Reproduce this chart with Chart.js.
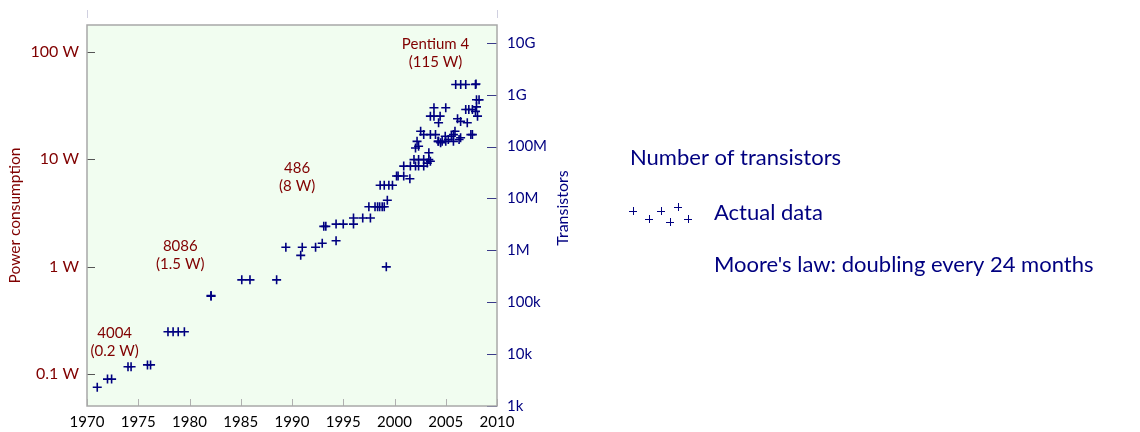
<!DOCTYPE html>
<html>
<head>
<meta charset="utf-8">
<script src="https://cdn.jsdelivr.net/npm/chart.js@4.4.1/dist/chart.umd.min.js"></script>
<style>
  html, body { margin: 0; padding: 0; background: #fff; }
</style>
</head>
<body>
<canvas id="mooreChart" width="1140" height="432"></canvas>
<script>
// processor data: year of introduction and transistor count
const years = [
  1971.0, 1972.0, 1972.4, 1974.0, 1974.3, 1975.9, 1976.2,
  1977.9, 1978.4, 1978.9, 1979.5, 1982.1, 1982.1,
  1985.1, 1985.9, 1988.5, 1989.4, 1990.85, 1991.0, 1992.3, 1992.95, 1994.3,
  1993.1, 1993.3, 1994.3, 1995.0, 1996.0, 1996.0, 1996.9, 1997.65,
  1997.5, 1998.1, 1998.35, 1998.55, 1998.8, 1999.0, 1999.3, 1999.2,
  1998.6, 1999.0, 1999.45, 1999.8, 2000.2, 2000.35, 2000.9, 2001.5,
  2000.9, 2001.55, 2002.05, 2002.35, 2002.85, 2003.2,
  2001.9, 2002.35, 2002.85, 2003.35, 2003.5, 2003.35,
  2002.05, 2002.35, 2002.2, 2002.55, 2002.85, 2003.5, 2004.0,
  2004.25, 2004.3, 2004.5, 2004.65, 2005.0, 2005.75, 2006.3,
  2004.95, 2005.25, 2005.55, 2005.75, 2005.9, 2006.45, 2007.45, 2007.6,
  2004.3, 2003.5, 2003.85, 2004.45, 2003.85, 2005.0,
  2006.15, 2006.45, 2007.1, 2006.95, 2007.25, 2007.6, 2007.9,
  2008.1, 2008.0, 2008.25, 2008.0,
  2005.97, 2006.46, 2006.95, 2007.9, 2007.95
];
const transistors = [
  2300, 3300, 3300, 5700, 5700, 6200, 6200,
  27000, 27000, 27000, 27000, 130000, 134000,
  270000, 270000, 270000, 1150000, 800000, 1150000, 1150000, 1370000, 1530000,
  2900000, 2900000, 3200000, 3200000, 3200000, 4200000, 4200000, 4200000,
  6900000, 6900000, 6900000, 6900000, 6900000, 6900000, 9200000, 480000,
  18000000, 18000000, 18000000, 18000000, 27000000, 27000000, 27000000, 24000000,
  42000000, 42000000, 42000000, 42000000, 42000000, 48000000,
  56000000, 56000000, 56000000, 56000000, 52000000, 76000000,
  94000000, 101000000, 126000000, 197000000, 170000000, 170000000, 170000000,
  126000000, 126000000, 118000000, 126000000, 126000000, 126000000, 137000000,
  158000000, 137000000, 158000000, 170000000, 197000000, 148000000, 170000000, 170000000,
  287000000, 385000000, 385000000, 385000000, 558000000, 558000000,
  343000000, 305000000, 287000000, 518000000, 518000000, 518000000, 477000000,
  385000000, 582000000, 795000000, 800000000,
  1570000000, 1570000000, 1570000000, 1570000000, 1600000000
];

// axis ticks
const yearTicks = [1970, 1975, 1980, 1985, 1990, 1995, 2000, 2005, 2010];
const transistorTicks = [1e3, 1e4, 1e5, 1e6, 1e7, 1e8, 1e9, 1e10];
const transistorLabels = ['1k', '10k', '100k', '1M', '10M', '100M', '1G', '10G'];
const powerTicks = [0.1, 1, 10, 100];
const powerLabels = ['0.1 W', '1 W', '10 W', '100 W'];

// chip annotations (placed at year / transistor coordinates)
const chipNames = ['Pentium 4', '486', '8086', '4004'];
const chipPower = ['(115 W)', '(8 W)', '(1.5 W)', '(0.2 W)'];
const chipYear = [2004.0, 1990.5, 1979.1, 1972.7];
const chipLevel = [9.3e9, 3.9e7, 1.23e6, 25600];

// legend texts
const legendTitle = 'Number of transistors';
const legendLabels = ['Actual data', "Moore's law: doubling every 24 months"];

const NAVY = '#000080';
const MAROON = '#800000';
Chart.defaults.font.family = 'Lato, "Open Sans", sans-serif';

function fixTicks(values) {
  return function(scale) {
    scale.ticks = values.map(v => ({ value: v }));
  };
}

const decorPlugin = {
  id: 'decor',
  beforeDraw(chart) {
    const a = chart.chartArea, ctx = chart.ctx;
    ctx.save();
    ctx.fillStyle = '#f1fdf0';
    ctx.fillRect(a.left, a.top, a.right - a.left, a.bottom - a.top);
    ctx.restore();
  },
  beforeDatasetsDraw(chart) {
    const a = chart.chartArea, ctx = chart.ctx;
    const sx = chart.scales.x, sp = chart.scales.yP, st = chart.scales.yT;
    ctx.save();
    ctx.lineWidth = 1;
    // x ticks, pointing up into the plot
    ctx.strokeStyle = '#b0b0b0';
    yearTicks.forEach(v => {
      const px = Math.round(sx.getPixelForValue(v)) + 0.5;
      ctx.beginPath(); ctx.moveTo(px, a.bottom); ctx.lineTo(px, a.bottom - 7); ctx.stroke();
    });
    // faint stubs above the plot
    [yearTicks[0], yearTicks[yearTicks.length - 1]].forEach(v => {
      const px = Math.round(sx.getPixelForValue(v)) + 0.5;
      ctx.strokeStyle = '#d0d0e0';
      ctx.beginPath(); ctx.moveTo(px, 10); ctx.lineTo(px, 18); ctx.stroke();
    });
    // left ticks
    ctx.strokeStyle = '#555';
    powerTicks.forEach(v => {
      const py = Math.round(sp.getPixelForValue(v)) + 0.5;
      ctx.beginPath(); ctx.moveTo(a.left, py); ctx.lineTo(a.left + 8, py); ctx.stroke();
    });
    // right ticks
    ctx.strokeStyle = '#3a3a8a';
    transistorTicks.forEach(v => {
      const py = Math.round(st.getPixelForValue(v)) + 0.5;
      ctx.beginPath(); ctx.moveTo(a.right, py); ctx.lineTo(a.right - 10, py); ctx.stroke();
    });
    // frame
    ctx.strokeStyle = '#a8a8a8';
    ctx.lineWidth = 1.5;
    ctx.strokeRect(a.left, a.top, a.right - a.left, a.bottom - a.top);
    ctx.restore();
  },
  afterDraw(chart) {
    const ctx = chart.ctx, a = chart.chartArea;
    const sx = chart.scales.x, st = chart.scales.yT;
    ctx.save();
    // chip annotations
    ctx.fillStyle = MAROON;
    ctx.font = '15px Lato, sans-serif';
    ctx.textAlign = 'center';
    ctx.textBaseline = 'middle';
    chipNames.forEach((name, i) => {
      const px = sx.getPixelForValue(chipYear[i]);
      const py = st.getPixelForValue(chipLevel[i]);
      ctx.fillText(name, px, py);
      ctx.fillText(chipPower[i], px, py + 18);
    });
    // right axis title, reading upward
    ctx.fillStyle = NAVY;
    ctx.font = '16px Lato, sans-serif';
    ctx.translate(a.right + 66, 208);
    ctx.rotate(-Math.PI / 2);
    ctx.fillText('Transistors', 0, 0);
    ctx.setTransform(1, 0, 0, 1, 0, 0);
    // legend
    ctx.textAlign = 'left';
    ctx.font = '22px Lato, sans-serif';
    ctx.fillText(legendTitle, 630, 158);
    ctx.fillText(legendLabels[0], 714, 213);
    ctx.fillText(legendLabels[1], 714, 265);
    ctx.strokeStyle = NAVY;
    ctx.lineWidth = 1;
    [[633, 211], [649, 219], [661, 211], [670, 222], [678, 207], [688, 219]].forEach(([x, y]) => {
      ctx.beginPath();
      ctx.moveTo(x - 4, y + 0.5); ctx.lineTo(x + 4, y + 0.5);
      ctx.moveTo(x + 0.5, y - 4); ctx.lineTo(x + 0.5, y + 4);
      ctx.stroke();
    });
    ctx.restore();
  }
};

const ctx = document.getElementById('mooreChart').getContext('2d');
const mooreChart = new Chart(ctx, {
  type: 'scatter',
  data: {
    datasets: [{
      label: 'Actual data',
      data: years.map((y, i) => ({ x: y, y: transistors[i] })),
      yAxisID: 'yT',
      pointStyle: 'cross',
      pointRadius: 4.5,
      borderWidth: 1.6,
      borderColor: NAVY,
      backgroundColor: NAVY
    }]
  },
  options: {
    responsive: false,
    devicePixelRatio: 1,
    animation: false,
    layout: { padding: { left: 0, top: 25, right: 567, bottom: 0 } },
    plugins: { legend: { display: false }, tooltip: { enabled: false } },
    scales: {
      x: {
        type: 'linear', position: 'bottom', min: 1970, max: 2010,
        afterBuildTicks: fixTicks(yearTicks),
        afterFit: s => { s.height = 26; },
        grid: { display: false }, border: { display: false },
        ticks: { color: '#000', font: { size: 15 }, padding: -1, maxRotation: 0, autoSkip: false,
                 callback: v => String(v) }
      },
      yP: {
        type: 'logarithmic', position: 'left', min: 0.0503, max: 177,
        afterBuildTicks: fixTicks(powerTicks),
        afterFit: s => { s.width = 87; },
        grid: { display: false }, border: { display: false },
        ticks: { color: MAROON, font: { size: 16 }, padding: 0, autoSkip: false,
                 callback: (v, i) => powerLabels[i] },
        title: { display: true, text: 'Power consumption', color: MAROON, font: { size: 15.5 }, padding: 6 }
      },
      yT: {
        type: 'logarithmic', position: 'right', min: 1000, max: 2.2e10,
        afterBuildTicks: fixTicks(transistorTicks),
        afterFit: s => { s.width = 76; },
        grid: { display: false }, border: { display: false },
        ticks: { color: NAVY, font: { size: 15 }, padding: 2, autoSkip: false,
                 callback: (v, i) => transistorLabels[i] }
      }
    }
  },
  plugins: [decorPlugin]
});
</script>
</body>
</html>
